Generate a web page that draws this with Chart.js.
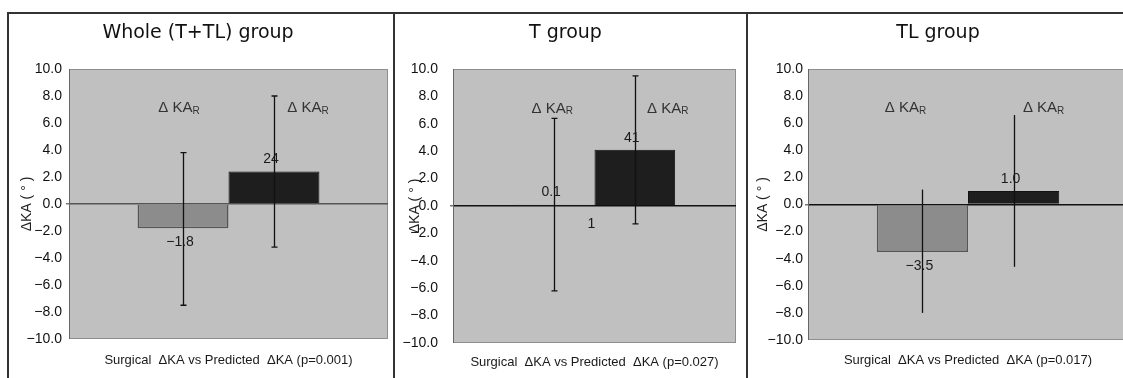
<!DOCTYPE html>
<html>
<head>
<meta charset="utf-8">
<script src="https://cdn.jsdelivr.net/npm/chart.js@4.4.0/dist/chart.umd.min.js"></script>
<style>
  body { margin: 0; background: #fff; }
  #wrap { position: relative; width: 1123px; height: 378px; overflow: hidden; background: #fff; }
  .panel { position: absolute; top: 13px; height: 365px; }
  .rule { position: absolute; background: #333; }
</style>
</head>
<body>
<div id="wrap">
  <div class="rule" style="left:7px; top:12px; width:1116px; height:1.5px;"></div>
  <div class="rule" style="left:7px; top:12px; width:1.5px; height:366px;"></div>
  <div class="rule" style="left:393px; top:12px; width:1.5px; height:366px;"></div>
  <div class="rule" style="left:746px; top:12px; width:1.5px; height:366px;"></div>
  <canvas id="c0" class="panel"></canvas>
  <canvas id="c1" class="panel"></canvas>
  <canvas id="c2" class="panel"></canvas>
</div>
<script>
// values
const groupTitles = ['Whole (T+TL) group', 'T group', 'TL group'];
const pValues = ['0.001', '0.027', '0.017'];
const surgicalMeans = [-1.8, 0.1, -3.5];
const predictedMeans = [2.4, 4.1, 1.0];
const surgicalErrLow = [-7.5, -6.2, -8.0];
const surgicalErrHigh = [3.8, 6.4, 1.1];
const predictedErrLow = [-3.2, -1.3, -4.6];
const predictedErrHigh = [8.0, 9.5, 6.6];
const surgicalLabels = ['\u22121.8', '0.1', '\u22123.5'];
const predictedLabels = ['24', '41', '1.0'];
const yMin = -10;
const yMax = 10;
const yStep = 2;

// panel boxes (layout only)
const panels = [
  { left: 8,   width: 386, axisW: 61, padRight: 6,  tickGap: 4,  yTitlePad: 10.6, xAxisH: 39, xTitlePad: 10.2, caps: 3, kaOffsets: [-4, 34] },
  { left: 395, width: 352, axisW: 58, padRight: 11, tickGap: 12, yTitlePad: 11.6, xAxisH: 35, xTitlePad: 8.2,  caps: 3, kaOffsets: [-2, 33] },
  { left: 748, width: 380, axisW: 60, padRight: 0,  tickGap: 2,  yTitlePad: 6.6,  xAxisH: 38, xTitlePad: 10.2, caps: 0, kaOffsets: [-17, 30] }
];

const textFont = "'Liberation Sans', Arial, sans-serif";

function fmtTick(v) {
  if (v === 0) return '0.0';
  return (v < 0 ? '\u2212' : '') + Math.abs(v).toFixed(1);
}

const plotBackground = {
  id: 'plotBackground',
  beforeDraw(chart) {
    const { ctx, chartArea: a } = chart;
    ctx.save();
    ctx.fillStyle = '#c0c0c0';
    ctx.fillRect(a.left, a.top, a.right - a.left, a.bottom - a.top);
    ctx.strokeStyle = '#8e8e8e';
    ctx.lineWidth = 1;
    ctx.strokeRect(a.left + 0.5, a.top + 0.5, a.right - a.left - 1, a.bottom - a.top - 1);
    ctx.restore();
  }
};

const errorBars = {
  id: 'errorBars',
  afterDatasetsDraw(chart) {
    const { ctx } = chart;
    const y = chart.scales.y;
    const cfg = chart.options.plugins.errorBars;
    ctx.save();
    ctx.strokeStyle = '#111';
    ctx.lineWidth = 1.3;
    chart.data.datasets.forEach((ds, di) => {
      const bar = chart.getDatasetMeta(di).data[0];
      const x = Math.round(bar.x) + 0.5;
      const top = y.getPixelForValue(ds.errHigh);
      const bot = y.getPixelForValue(ds.errLow);
      ctx.beginPath();
      ctx.moveTo(x, top);
      ctx.lineTo(x, bot);
      if (cfg.caps > 0) {
        ctx.moveTo(x - cfg.caps, top);
        ctx.lineTo(x + cfg.caps, top);
        ctx.moveTo(x - cfg.caps, bot);
        ctx.lineTo(x + cfg.caps, bot);
      }
      ctx.stroke();
    });
    ctx.restore();
  }
};

const valueLabels = {
  id: 'valueLabels',
  afterDatasetsDraw(chart) {
    const { ctx } = chart;
    ctx.save();
    ctx.font = '14px ' + textFont;
    ctx.fillStyle = '#1a1a1a';
    ctx.textAlign = 'center';
    ctx.textBaseline = 'middle';
    chart.data.datasets.forEach((ds, di) => {
      const bar = chart.getDatasetMeta(di).data[0];
      const v = ds.data[0];
      const ly = v < 0 ? bar.y + 14 : bar.y - 12;
      ctx.fillText(ds.valueLabel, bar.x - 3, ly);
    });
    ctx.restore();
  }
};

const kaLabels = {
  id: 'kaLabels',
  afterDraw(chart) {
    const { ctx } = chart;
    const cfg = chart.options.plugins.kaLabels;
    const y = chart.scales.y.getPixelForValue(7.1);
    ctx.save();
    ctx.fillStyle = '#333';
    ctx.textBaseline = 'middle';
    chart.data.datasets.forEach((ds, di) => {
      const bar = chart.getDatasetMeta(di).data[0];
      const cx = bar.x + cfg.offsets[di];
      ctx.font = '15px ' + textFont;
      const main = '\u0394 KA';
      const wMain = ctx.measureText(main).width;
      ctx.font = '10px ' + textFont;
      const wSub = ctx.measureText('R').width;
      const x0 = cx - (wMain + wSub) / 2;
      ctx.font = '15px ' + textFont;
      ctx.textAlign = 'left';
      ctx.fillText(main, x0, y);
      ctx.font = '10px ' + textFont;
      ctx.fillText('R', x0 + wMain, y + 3);
    });
    if (cfg.stray) {
      const meta = chart.getDatasetMeta(0).data[0];
      const x = meta.x + meta.width / 2 - 3;
      ctx.font = '14px ' + textFont;
      ctx.textAlign = 'center';
      ctx.fillStyle = '#1a1a1a';
      ctx.fillText(cfg.stray, x, chart.scales.y.getPixelForValue(-1.35));
    }
    ctx.restore();
  }
};

panels.forEach((p, i) => {
  const canvas = document.getElementById('c' + i);
  canvas.style.left = p.left + 'px';
  canvas.width = p.width;
  canvas.height = 365;
  canvas.style.width = p.width + 'px';
  canvas.style.height = '365px';

  new Chart(canvas, {
    type: 'bar',
    data: {
      labels: [''],
      datasets: [
        {
          label: 'Surgical \u0394KA',
          data: [surgicalMeans[i]],
          errLow: surgicalErrLow[i],
          errHigh: surgicalErrHigh[i],
          valueLabel: surgicalLabels[i],
          backgroundColor: '#8c8c8c',
          borderColor: '#555',
          borderWidth: 1.5,
          categoryPercentage: 0.57,
          barPercentage: 1.0
        },
        {
          label: 'Predicted \u0394KA',
          data: [predictedMeans[i]],
          errLow: predictedErrLow[i],
          errHigh: predictedErrHigh[i],
          valueLabel: predictedLabels[i],
          backgroundColor: '#1e1e1e',
          borderColor: '#111',
          borderWidth: 1,
          categoryPercentage: 0.57,
          barPercentage: 1.0
        }
      ]
    },
    options: {
      responsive: false,
      animation: false,
      devicePixelRatio: 1,
      layout: { padding: { left: 0, right: p.padRight, top: 0, bottom: 0 } },
      plugins: {
        legend: { display: false },
        tooltip: { enabled: false },
        title: {
          display: true,
          text: groupTitles[i],
          color: '#111',
          font: { family: "'DejaVu Sans', sans-serif", size: 19, weight: 'normal' },
          padding: { top: 8.6, bottom: 24.6 }
        },
        errorBars: { caps: p.caps },
        kaLabels: { offsets: p.kaOffsets, stray: i === 1 ? '1' : null }
      },
      scales: {
        x: {
          display: true,
          afterFit(scale) { scale.height = p.xAxisH; },
          ticks: { display: false },
          grid: { display: false },
          border: { display: false },
          title: {
            display: true,
            text: 'Surgical  \u0394KA vs Predicted  \u0394KA (p=' + pValues[i] + ')',
            color: '#1a1a1a',
            font: { family: textFont, size: 13 },
            padding: { top: 0, bottom: p.xTitlePad }
          }
        },
        y: {
          min: yMin,
          max: yMax,
          afterFit(scale) { scale.width = p.axisW; },
          ticks: {
            stepSize: yStep,
            padding: p.tickGap,
            color: '#111',
            font: { family: textFont, size: 14 },
            callback: v => fmtTick(v)
          },
          grid: {
            drawOnChartArea: true,
            tickLength: 3,
            tickColor: '#777',
            lineWidth: ctx => (ctx.tick && ctx.tick.value === 0 ? 1.5 : 0),
            color: ctx => (ctx.tick && ctx.tick.value === 0 ? (i === 0 ? '#555' : '#111') : 'rgba(0,0,0,0)')
          },
          border: { color: '#666', width: 1 },
          title: {
            display: true,
            text: '\u0394KA ( \u00b0 )',
            color: '#222',
            font: { family: textFont, size: 14 },
            padding: { top: p.yTitlePad, bottom: 0 }
          }
        }
      }
    },
    plugins: [plotBackground, errorBars, valueLabels, kaLabels]
  });
});
</script>
</body>
</html>
